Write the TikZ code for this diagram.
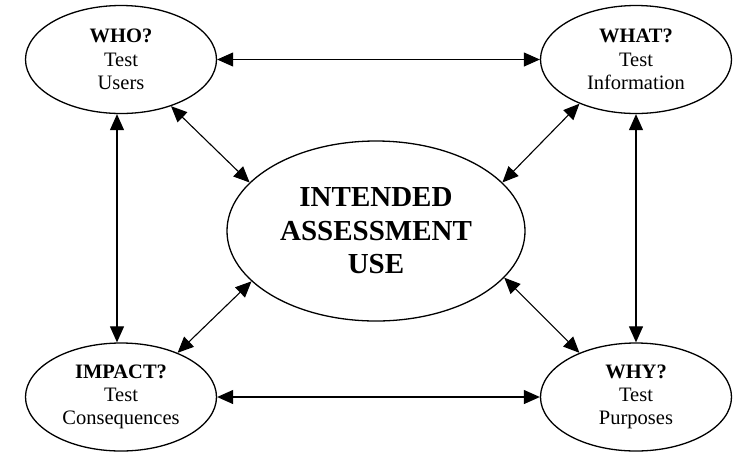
\documentclass[tikz,border=0pt]{standalone}
\usepackage{fontspec}
\setmainfont{Liberation Serif}
\usetikzlibrary{shapes.geometric,arrows.meta}
\begin{document}
\begin{tikzpicture}[x=1pt,y=-1pt,
  oval/.style={ellipse,draw,line width=1.3pt,inner sep=0pt,minimum width=191pt,minimum height=108pt,align=center,font=\fontsize{20.5}{23.3}\selectfont},
  bigoval/.style={ellipse,draw,line width=1.3pt,inner sep=0pt,minimum width=298pt,minimum height=180pt,align=center,font=\fontsize{29}{33.5}\selectfont\bfseries},
  link/.style={line width=1.1pt,{Triangle[length=16pt,width=14pt]}-{Triangle[length=16pt,width=14pt]}}]
\useasboundingbox (0,0) rectangle (733,451);
\node[oval] (who) at (121,59.5) {\textbf{WHO?}\\Test\\Users};
\node[oval] (what) at (636,59.5) {\textbf{WHAT?}\\Test\\Information};
\node[oval] (impact) at (121,397) {\textbf{IMPACT?}\\Test\\Consequences};
\node[oval] (why) at (636,397) {\textbf{WHY?}\\Test\\Purposes};
\node[bigoval] (use) at (376,231) {INTENDED\\ASSESSMENT\\USE};
\draw[link] (who) -- (what);
\draw[link] (impact) -- (why);
\draw[link] ([xshift=-4pt]who.south) -- ([xshift=-4pt]impact.north);
\draw[link] (what) -- (why);
\draw[link] (who.-43) -- (use.159);
\draw[link] (what.-142) -- (use.21);
\draw[link] (impact.38) -- (use.202);
\draw[link] (why.142) -- (use.-20);
\end{tikzpicture}
\end{document}
